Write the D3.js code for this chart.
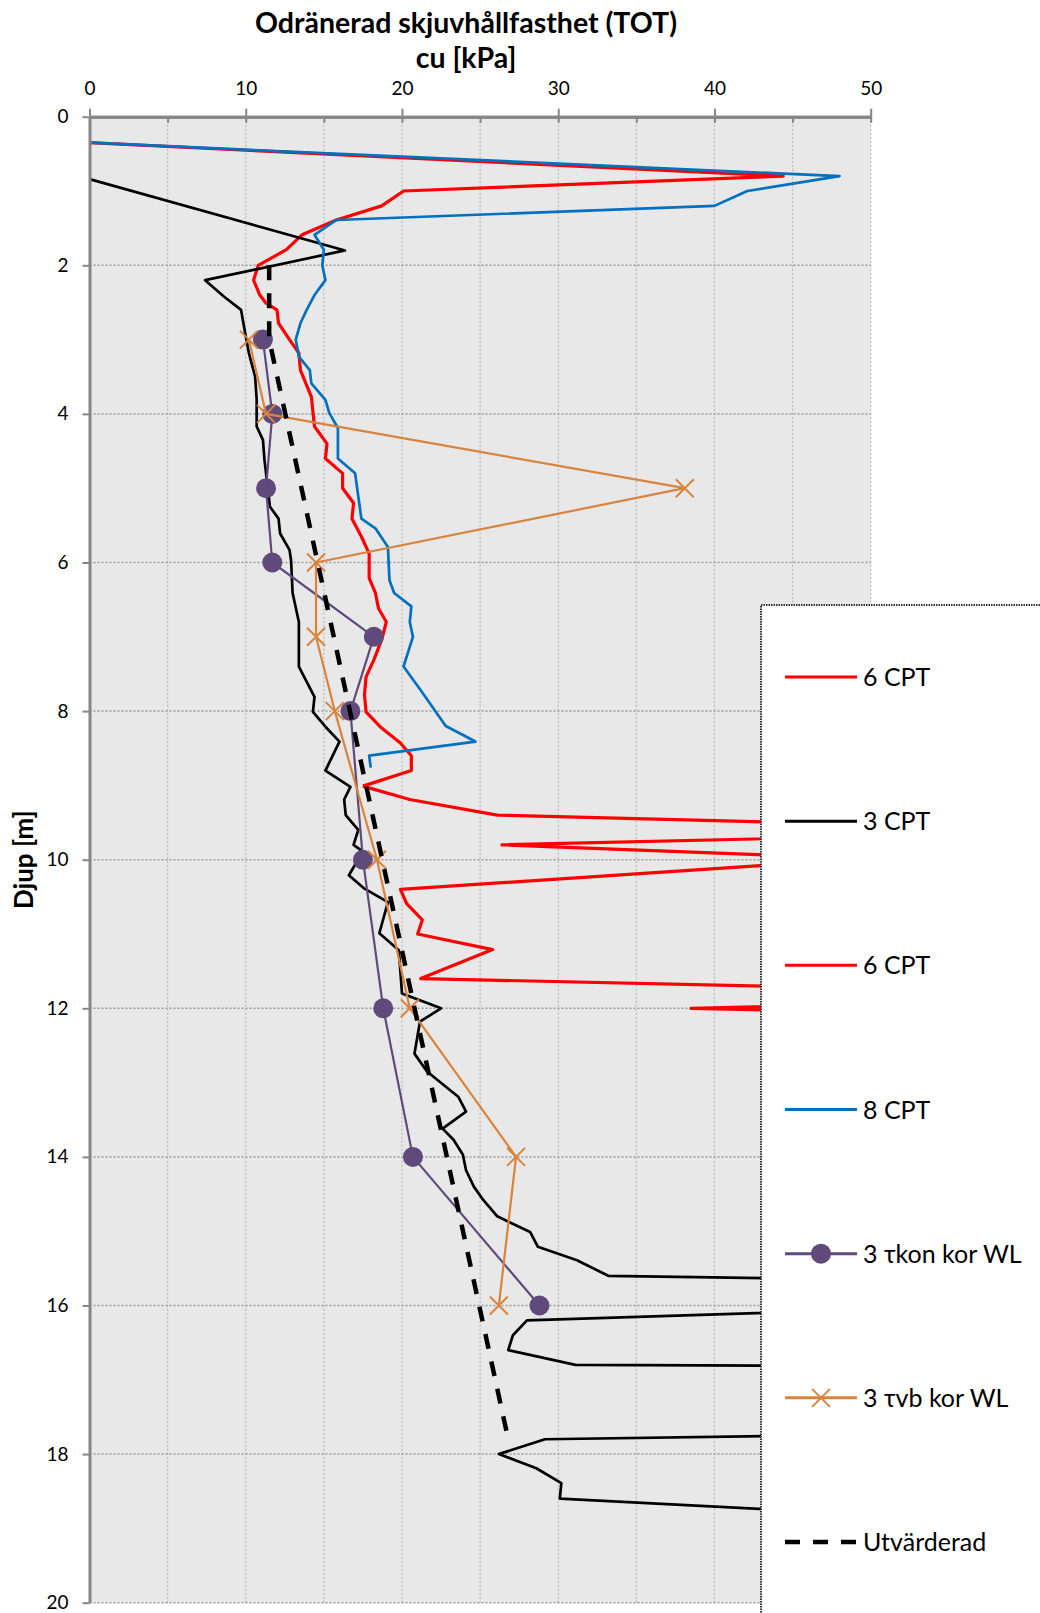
<!DOCTYPE html>
<html>
<head>
<meta charset="utf-8">
<script src="https://cdn.jsdelivr.net/npm/d3@7"></script>
<style>
  body { margin: 0; background: #fff; }
  text { font-family: Lato, "Open Sans", sans-serif; fill: #000; }
</style>
</head>
<body>
<div id="chart"></div>
<script>
// Series data: shear strength cu [kPa] against depth [m]
var cpt6aCu = [0, 44.4, 20.1, 18.7, 15.8, 13.6, 12.6, 10.8, 10.5, 10.9, 11.3, 12.0, 12.1, 12.8, 13.4, 13.5, 14.2, 14.4, 15.2, 15.1, 16.2, 16.2, 16.9, 16.8, 17.4, 17.9, 17.9, 18.3, 18.5, 19.0, 18.7, 18.2, 17.7, 17.6, 17.7, 18.6, 19.9, 20.6, 20.6, 17.5];
var cpt6aDepth = [0.35, 0.80, 1.0, 1.2, 1.39, 1.59, 1.79, 2.0, 2.2, 2.4, 2.51, 2.6, 2.78, 3.0, 3.18, 3.41, 3.77, 4.17, 4.4, 4.6, 4.8, 5.0, 5.2, 5.41, 5.65, 5.88, 6.21, 6.41, 6.62, 6.8, 7.04, 7.31, 7.54, 7.78, 8.01, 8.21, 8.43, 8.6, 8.8, 9.01];

var cpt3Cu = [0, 16.35, 7.4, 8.6, 9.7, 9.85, 10.2, 10.6, 10.7, 10.7, 11.1, 11.2, 11.55, 12.1, 12.2, 12.8, 12.9, 13.0, 13.4, 13.4, 14.4, 14.3, 15.1, 16.0, 15.1, 16.7, 16.3, 16.4, 17.2, 16.9, 17.5, 16.6, 17.6, 19.1, 18.55, 19.8, 20.0, 22.5, 21.15, 20.8, 21.6, 23.6, 24.1, 22.6, 23.3, 23.9, 24.1, 24.6, 25.2, 26.1, 28.2, 28.7, 31.2, 33.2, 55, 55, 28.0, 27.1, 26.8, 31.1, 55, 55, 29.15, 26.2, 28.6, 30.2, 30.1, 55];
var cpt3Depth = [0.84, 1.8, 2.2, 2.42, 2.6, 2.78, 3.18, 3.5, 3.81, 4.17, 4.35, 4.62, 5.25, 5.41, 5.61, 5.83, 5.97, 6.41, 6.8, 7.4, 7.81, 8.01, 8.21, 8.41, 8.8, 9.02, 9.19, 9.4, 9.6, 9.8, 9.89, 10.21, 10.39, 10.57, 10.99, 11.22, 11.8, 12.0, 12.18, 12.61, 12.85, 13.19, 13.39, 13.62, 13.77, 13.97, 14.18, 14.4, 14.58, 14.8, 15.01, 15.21, 15.39, 15.6, 15.67, 16.02, 16.2, 16.4, 16.6, 16.8, 16.82, 17.725, 17.8, 18.0, 18.19, 18.39, 18.6, 18.87];

var cpt6bCu = [17.5, 20.5, 26.1, 55, 55, 26.4, 55, 55, 19.9, 20.3, 21.3, 21.0, 25.8, 21.2, 55, 55, 38.5, 55];
var cpt6bDepth = [9.01, 9.19, 9.40, 9.555, 9.66, 9.80, 10.03, 9.91, 10.40, 10.59, 10.81, 11.0, 11.21, 11.6, 11.756, 11.92, 12.0, 12.08];

var cpt8Cu = [0, 48.0, 42.1, 40.0, 15.8, 14.4, 15.0, 14.9, 15.1, 14.4, 13.9, 13.5, 13.2, 13.4, 14.1, 14.2, 15.1, 15.35, 15.9, 15.9, 17.0, 17.4, 18.3, 19.1, 19.2, 19.5, 20.6, 20.5, 20.7, 20.1, 21.2, 22.8, 24.7, 17.9, 18.0];
var cpt8Depth = [0.35, 0.80, 1.0, 1.2, 1.39, 1.59, 1.79, 2.0, 2.2, 2.4, 2.6, 2.78, 3.0, 3.23, 3.41, 3.59, 3.81, 3.99, 4.19, 4.6, 4.8, 5.41, 5.54, 5.79, 6.24, 6.41, 6.59, 6.8, 7.0, 7.4, 7.72, 8.2, 8.41, 8.6, 8.76];

var konDepth = [3, 4, 5, 6, 7, 8, 10, 12, 14, 16];
var konCu = [11.1, 11.7, 11.3, 11.7, 18.2, 16.7, 17.5, 18.8, 20.7, 28.8];

var vbDepth = [3, 4, 5, 6, 7, 8, 10, 12, 14, 16];
var vbCu = [10.2, 11.3, 38.1, 14.5, 14.5, 15.7, 18.4, 20.5, 27.3, 26.2];

var evalDepth = [2, 3, 17.8];
var evalCu = [11.5, 11.5, 26.8];

// Legend names and axis ticks
var seriesNames = ["6 CPT", "3 CPT", "6 CPT", "8 CPT", "3 τkon kor WL", "3 τvb kor WL", "Utvärderad"];
var cuTicks = [0, 10, 20, 30, 40, 50];
var cuGrid = [5, 10, 15, 20, 25, 30, 35, 40, 45, 50];
var depthTicks = [0, 2, 4, 6, 8, 10, 12, 14, 16, 18, 20];

// Define SVG area dimensions
var svgWidth = 1040;
var svgHeight = 1613;

// Plot area edges
var plot = { left: 89.5, right: 870.7, top: 116.7, bottom: 1602.7 };

var svg = d3
  .select("#chart")
  .append("svg")
  .attr("width", svgWidth)
  .attr("height", svgHeight);

svg.append("rect").attr("width", svgWidth).attr("height", svgHeight).attr("fill", "#fff");

var x = d3.scaleLinear().domain([0, 50]).range([plot.left, plot.right]);
var y = d3.scaleLinear().domain([0, 20]).range([plot.top, plot.bottom]);

// Plot background
svg
  .append("rect")
  .attr("x", plot.left)
  .attr("y", plot.top)
  .attr("width", plot.right - plot.left)
  .attr("height", plot.bottom - plot.top)
  .attr("fill", "#e8e8e8");

// Gridlines
svg
  .append("g")
  .selectAll("line")
  .data(cuGrid)
  .enter()
  .append("line")
  .attr("x1", (d) => x(d))
  .attr("x2", (d) => x(d))
  .attr("y1", plot.top)
  .attr("y2", plot.bottom)
  .attr("stroke", "#b8b8b8")
  .attr("stroke-width", 1.2)
  .attr("stroke-dasharray", "2,2");

svg
  .append("g")
  .selectAll("line")
  .data(depthTicks.slice(1))
  .enter()
  .append("line")
  .attr("x1", plot.left)
  .attr("x2", plot.right)
  .attr("y1", (d) => y(d))
  .attr("y2", (d) => y(d))
  .attr("stroke", "#9a9a9a")
  .attr("stroke-width", 1.5)
  .attr("stroke-dasharray", "2,2");

// Clip the data to the plot area
svg
  .append("clipPath")
  .attr("id", "plotClip")
  .append("rect")
  .attr("x", plot.left)
  .attr("y", plot.top)
  .attr("width", plot.right - plot.left)
  .attr("height", plot.bottom - plot.top);

var dataGroup = svg.append("g").attr("clip-path", "url(#plotClip)");

function zip(cu, depth) {
  return cu.map((c, i) => [c, depth[i]]);
}

var line = d3
  .line()
  .x((d) => x(d[0]))
  .y((d) => y(d[1]));

var series = [
  { pts: zip(cpt6aCu, cpt6aDepth), color: "#ff0000", width: 3.2 },
  { pts: zip(cpt3Cu, cpt3Depth), color: "#000000", width: 2.7 },
  { pts: zip(cpt6bCu, cpt6bDepth), color: "#ff0000", width: 3.2 },
  { pts: zip(cpt8Cu, cpt8Depth), color: "#0070c0", width: 2.7 },
  { pts: zip(konCu, konDepth), color: "#604a7b", width: 2.2, marker: "circle" },
  { pts: zip(vbCu, vbDepth), color: "#d9843c", width: 2.2, marker: "x" },
  { pts: zip(evalCu, evalDepth), color: "#000000", width: 4.5, dash: "15,13" },
];

function drawMarker(g, kind, color, cx, cy) {
  if (kind === "circle") {
    g.append("circle").attr("cx", cx).attr("cy", cy).attr("r", 10).attr("fill", color);
  } else if (kind === "x") {
    var s = 9;
    g.append("path")
      .attr("d", `M${cx - s},${cy - s}L${cx + s},${cy + s}M${cx - s},${cy + s}L${cx + s},${cy - s}`)
      .attr("stroke", color)
      .attr("stroke-width", 2)
      .attr("fill", "none");
  }
}

series.forEach((s) => {
  dataGroup
    .append("path")
    .datum(s.pts)
    .attr("d", line)
    .attr("fill", "none")
    .attr("stroke", s.color)
    .attr("stroke-width", s.width)
    .attr("stroke-linejoin", "round")
    .attr("stroke-dasharray", s.dash || null);
  if (s.marker) {
    s.pts.forEach((p) => drawMarker(dataGroup, s.marker, s.color, x(p[0]), y(p[1])));
  }
});

// Axes
var topAxis = d3.axisTop(x).tickValues(cuTicks).tickSize(8).tickSizeOuter(0).tickPadding(14);
var topInner = d3.axisBottom(x).tickValues(cuGrid).tickSize(6).tickSizeOuter(0).tickFormat("");
var leftAxis = d3.axisLeft(y).tickValues(depthTicks).tickSize(7).tickSizeOuter(0).tickPadding(14);

function styleAxis(g) {
  g.select(".domain").attr("stroke", "#868686").attr("stroke-width", 3);
  g.selectAll(".tick line").attr("stroke", "#868686").attr("stroke-width", 2);
  g.selectAll(".tick text").style("font-size", "19px").style("font-family", "Lato, sans-serif").attr("fill", "#000");
}

svg.append("g").attr("transform", `translate(0,${plot.top})`).call(topInner).call(styleAxis);
svg.append("g").attr("transform", `translate(0,${plot.top})`).call(topAxis).call(styleAxis);
svg.append("g").attr("transform", `translate(${plot.left},0)`).call(leftAxis).call(styleAxis);

// Titles
svg
  .append("text")
  .attr("x", 466)
  .attr("y", 33)
  .attr("text-anchor", "middle")
  .style("font-size", "28.5px")
  .style("font-weight", "bold")
  .text("Odränerad skjuvhållfasthet (TOT)");

svg
  .append("text")
  .attr("x", 466)
  .attr("y", 68)
  .attr("text-anchor", "middle")
  .style("font-size", "28.5px")
  .style("font-weight", "bold")
  .text("cu [kPa]");

svg
  .append("text")
  .attr("transform", `translate(33,${(plot.top + plot.bottom) / 2}) rotate(-90)`)
  .attr("text-anchor", "middle")
  .style("font-size", "26px")
  .style("font-weight", "bold")
  .text("Djup [m]");

// Legend box
var legend = svg.append("g");
legend
  .append("rect")
  .attr("x", 761)
  .attr("y", 605)
  .attr("width", 400)
  .attr("height", 1100)
  .attr("fill", "#fff")
  .attr("stroke", "#333")
  .attr("stroke-width", 2)
  .attr("stroke-dasharray", "1.5,1");

var legendY = d3.scalePoint().domain(d3.range(seriesNames.length)).range([677, 1542]);

series.forEach((s, i) => {
  var ly = legendY(i);
  legend
    .append("line")
    .attr("x1", 785)
    .attr("x2", 857)
    .attr("y1", ly)
    .attr("y2", ly)
    .attr("stroke", s.color)
    .attr("stroke-width", s.dash ? 4.5 : 3)
    .attr("stroke-dasharray", s.dash || null);
  if (s.marker) drawMarker(legend, s.marker, s.color, 821, ly);
  legend
    .append("text")
    .attr("x", 863)
    .attr("y", ly)
    .attr("dy", "0.36em")
    .style("font-size", "25px")
    .text(seriesNames[i]);
});
</script>
</body>
</html>
